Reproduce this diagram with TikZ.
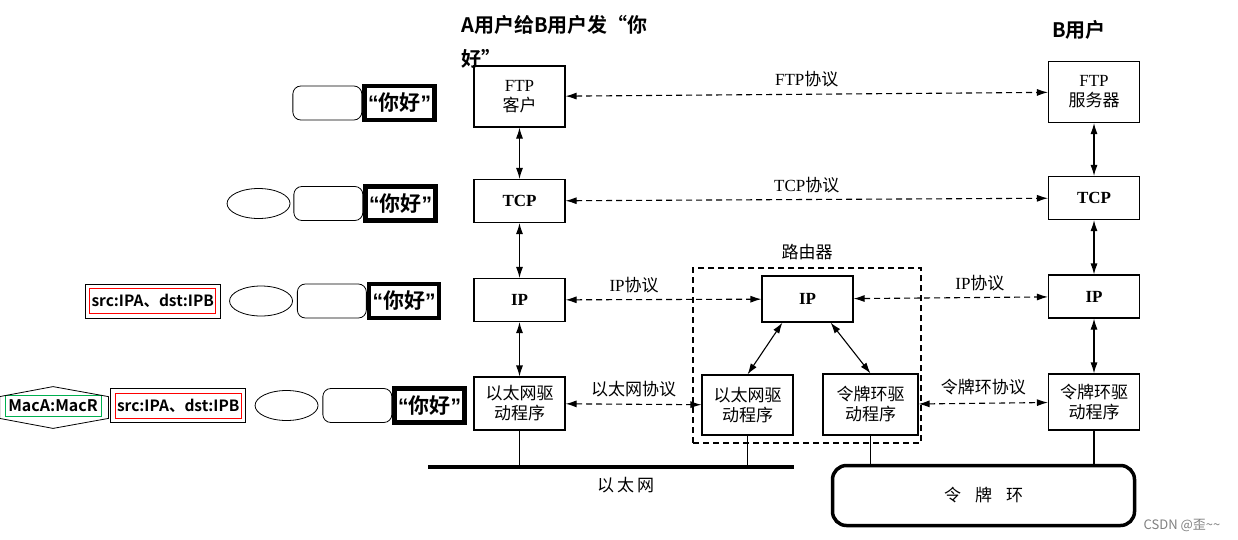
\documentclass[tikz,border=0pt]{standalone}
\usepackage{fontspec}
\setmainfont{Liberation Serif}
\newfontfamily\cjk{Noto Sans CJK SC}
\newfontfamily\cjkbf{Noto Sans CJK SC Bold}
\newfontfamily\quotebf{Liberation Sans Bold}
\newcommand\hellotext{{\quotebf “}你好{\quotebf ”}}
\usetikzlibrary{arrows.meta,positioning,fit,shapes.geometric}
\definecolor{macgreen}{RGB}{0,176,80}

\begin{document}
\begin{tikzpicture}[x=1pt,y=-1pt,>={Latex[length=11pt,width=7pt]},line width=1.1pt,
  layer/.style={draw,minimum width=91pt,minimum height=43pt,inner sep=0pt,align=center,font=\cjk\fontsize{17}{20}\selectfont},
  ltr/.style={font=\rmfamily\bfseries\fontsize{17}{20}\selectfont},
  proto/.style={<->,dash pattern=on 6pt off 4pt},
  link/.style={<->},
  hello/.style={draw,line width=4.5pt,minimum width=70pt,minimum height=34pt,inner sep=0pt,font=\cjkbf\fontsize{21}{23}\selectfont},
  seg/.style={draw,line width=0.8pt,rounded corners=8pt,minimum width=69pt,minimum height=34pt},
  hdr/.style={draw,line width=0.8pt,ellipse,minimum width=63pt,minimum height=30pt},
  addr/.style={draw=red,line width=0.8pt,minimum width=126pt,minimum height=25pt,inner sep=1pt,font=\cjkbf\fontsize{15.5}{18}\selectfont},
  mac/.style={draw=macgreen,line width=0.8pt,minimum width=96pt,minimum height=21pt,inner sep=1pt,font=\cjkbf\fontsize{16}{18}\selectfont}]
  \useasboundingbox (0,0) rectangle (1238,539);

  \node[anchor=north west,align=left,inner sep=0pt,font=\cjkbf\fontsize{20}{34}\selectfont] (titleA) at (461,15) {A用户给B用户发“你\\好”};
  \node[font=\cjkbf\fontsize{20}{24}\selectfont] (titleB) at (1079,30) {B用户};

  \node[layer,minimum height=61pt] (ftpA) at (519.5,96.5) {{\rmfamily FTP}\\客户};
  \node[layer,ltr] (tcpA) at (519.5,201) {TCP};
  \node[layer,ltr] (ipA) at (519.5,300) {IP};
  \node[layer,minimum height=53pt] (ethA) at (519.5,403.5) {以太网驱\\动程序};

  \node[layer,minimum height=61pt] (ftpB) at (1094,92) {{\rmfamily FTP}\\服务器};
  \node[layer,ltr] (tcpB) at (1094,198) {TCP};
  \node[layer,ltr] (ipB) at (1094,296.5) {IP};
  \node[layer,minimum height=56pt] (trB) at (1094,402) {令牌环驱\\动程序};

  \node[draw,dash pattern=on 6pt off 4pt,minimum width=228pt,minimum height=175pt] (router) at (807,355.5) {};
  \node[font=\cjk\fontsize{17}{20}\selectfont] (routerlbl) [above=4pt of router] {路由器};
  \node[layer,ltr,minimum height=46pt] (ipR) at (807.5,299) {IP};
  \node[layer,minimum height=60pt] (ethR) at (747.5,405) {以太网驱\\动程序};
  \node[layer,minimum width=95pt,minimum height=61pt] (trR) at (870.5,404.5) {令牌环驱\\动程序};

  \path[link]
  (ftpA) edge (tcpA)
  (tcpA) edge (ipA)
  (ipA) edge (ethA)
  (ftpB) edge (tcpB)
  (tcpB) edge (ipB)
  (ipB) edge (trB)
  ([xshift=21pt]ipR.south west) edge (ethR.north)
  ([xshift=-23pt]ipR.south east) edge (trR.north)
  ;

  \path[proto,every node/.style={font=\cjk\fontsize{17}{20}\selectfont}]
  (ftpA) edge node [above=3pt] {{\rmfamily FTP}协议} (ftpB)
  (tcpA) edge node [above=3pt] {{\rmfamily TCP}协议} (tcpB)
  (ipA) edge node [pos=0.35,above=3pt] {{\rmfamily IP}协议} (ipR)
  (ipR) edge node [pos=0.65,above=3pt] {{\rmfamily IP}协议} (ipB)
  (ethA) edge node [above=3pt] {以太网协议} (ethR)
  (trR) edge node [above=4pt] {令牌环协议} (trB)
  ;

  \coordinate (lanW) at (428,467);
  \coordinate (lanE) at (794,467);
  \draw[line width=3.5pt] (lanW) -- (lanE) node [pos=0.54,below=5pt,font=\cjk\fontsize{17}{20}\selectfont] {以\hspace{3pt}太\hspace{3pt}网};
  \node[draw,line width=3.5pt,rounded corners=14pt,minimum width=302pt,minimum height=60pt,font=\cjk\fontsize{17}{20}\selectfont] (ring) at (983.5,495.5) {令\hspace{14pt}牌\hspace{14pt}环};
  \draw (ethA.south) -- (ethA.south |- lanW);
  \draw (ethR.south) -- (ethR.south |- lanW);
  \draw (trR.south) -- (trR.south |- ring.north);
  \draw (trB.south) -- (trB.south |- ring.north);

  \node[hello] (h1) at (399.5,103) {\hellotext};
  \node[seg] (s1) [left=0pt of h1] {};

  \node[hello] (h2) at (400.5,203.5) {\hellotext};
  \node[seg] (s2) [left=0pt of h2] {};
  \node[hdr] (e2) [left=3pt of s2] {};

  \node[hello] (h3) at (404,301) {\hellotext};
  \node[seg] (s3) [left=0pt of h3] {};
  \node[hdr] (e3) [left=4pt of s3] {};
  \node[addr] (a3) [left=13pt of e3] {src:IPA、dst:IPB};
  \node[draw,line width=0.8pt,fit=(a3),inner sep=4pt] (f3) {};

  \node[hello] (h4) at (429.5,405.5) {\hellotext};
  \node[seg] (s4) [left=0pt of h4] {};
  \node[hdr] (e4) [left=4pt of s4] {};
  \node[addr] (a4) [left=13pt of e4] {src:IPA、dst:IPB};
  \node[draw,line width=0.8pt,fit=(a4),inner sep=4pt] (f4) {};
  \node[mac] (m4) [left=9pt of f4] {MacA:MacR};
  \draw[line width=0.8pt] ([xshift=-5pt,yshift=-2pt]m4.north west) -- ([yshift=8pt]m4.north)
    -- ([xshift=7pt,yshift=-2pt]m4.north east) -- ([xshift=7pt,yshift=-2pt]m4.south east)
    -- ([yshift=-12pt]m4.south) -- ([xshift=-5pt,yshift=-2pt]m4.south west) -- cycle;

  \node[text=gray,font=\cjk\fontsize{13}{15}\selectfont] (mark) at (1182,525) {CSDN @歪\textasciitilde\textasciitilde};
\end{tikzpicture}
\end{document}
